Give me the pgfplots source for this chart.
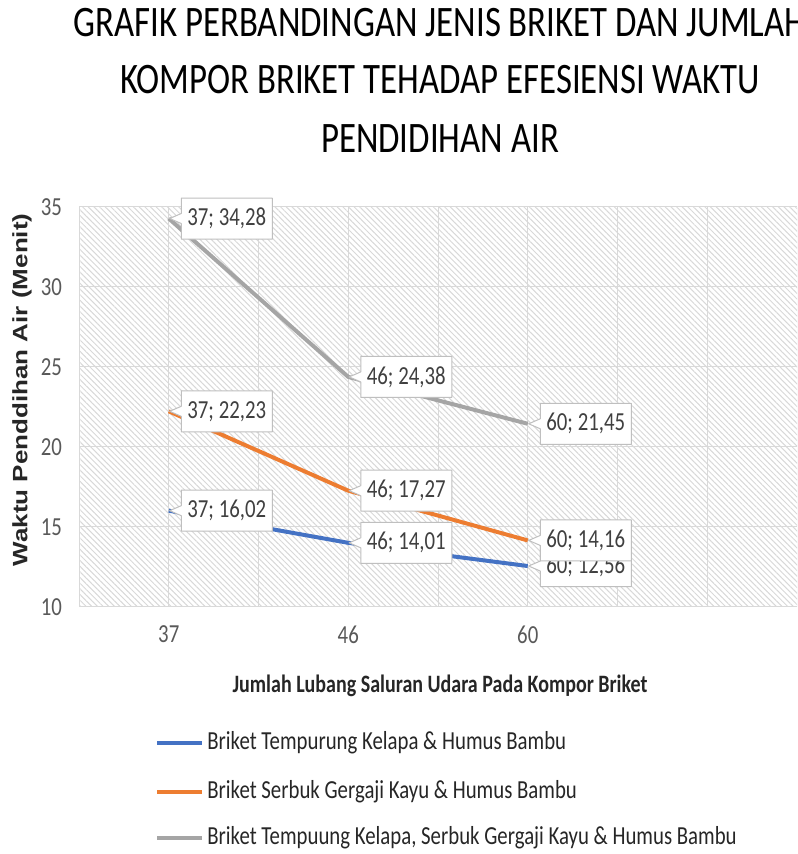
\documentclass[border=0pt]{standalone}
\usepackage{fontspec}
\setmainfont[FakeStretch=0.8]{Carlito}
\newfontfamily\arialfont{Liberation Sans}
\usepackage{graphicx}
\usepackage{pgfplots}
\usepackage{pgfplotstable}
\pgfplotsset{compat=1.18}
\usetikzlibrary{patterns.meta,shapes.callouts}

\definecolor{blueS}{HTML}{4472C4}
\definecolor{orangeS}{HTML}{ED7D31}
\definecolor{grayS}{HTML}{A5A5A5}
\definecolor{gridc}{HTML}{D9D9D9}
\definecolor{hatchc}{HTML}{D8D8D8}
\definecolor{tickc}{HTML}{595959}
\definecolor{labtxt}{HTML}{404040}
\definecolor{boxc}{HTML}{BFBFBF}
\definecolor{darktxt}{HTML}{262626}

% a bare ; would end the tikz path of the label node
\newcommand{\semi}{;}

% x = category index (37, 46, 60), lab = data label as printed
\pgfplotstableread[col sep=comma]{
x,y,lab
0,16.02,{37\semi{} 16,02}
1,14.01,{46\semi{} 14,01}
2,12.56,{60\semi{} 12,56}
}\tempurung
\pgfplotstableread[col sep=comma]{
x,y,lab
0,22.23,{37\semi{} 22,23}
1,17.27,{46\semi{} 17,27}
2,14.16,{60\semi{} 14,16}
}\serbuk
\pgfplotstableread[col sep=comma]{
x,y,lab
0,34.28,{37\semi{} 34,28}
1,24.38,{46\semi{} 24,38}
2,21.45,{60\semi{} 21,45}
}\campuran

\begin{document}
\begin{tikzpicture}
\useasboundingbox (0,0) rectangle (398.5pt,427pt);
\clip (0,0) rectangle (398.5pt,427pt);

% title
\begin{scope}[every node/.style={font=\fontsize{21.75}{26}\selectfont, anchor=base}]
\node at (220pt,408.5pt) {GRAFIK PERBANDINGAN JENIS BRIKET DAN JUMLAH};
\node at (220pt,380pt) {KOMPOR BRIKET TEHADAP EFESIENSI WAKTU};
\node at (220pt,350.5pt) {PENDIDIHAN AIR};
\end{scope}

\begin{axis}[
    at={(39.5pt,123.5pt)}, anchor=south west,
    width=359pt, height=200pt, scale only axis,
    xmin=-0.5, xmax=3.5, ymin=10, ymax=35,
    xtick={0,1,2}, xticklabels={37,46,60},
    minor xtick={-0.5,0.5,1.5,2.5,3,3.5},
    ytick={10,15,20,25,30,35},
    grid=both,
    major grid style={draw=gridc, line width=0.5pt},
    minor grid style={draw=gridc, line width=0.5pt},
    axis line style={draw=none},
    major tick length=0pt, minor tick length=0pt,
    tick label style={font=\fontsize{13}{15}\selectfont, text=tickc},
    /pgf/number format/assume math mode=true,
    xticklabel style={yshift=-6pt},
    yticklabel style={xshift=-5pt},
    axis background/.style={pattern={Lines[angle=-45,distance=2pt,line width=0.5pt]}, pattern color=hatchc},
    xlabel={Jumlah Lubang Saluran Udara Pada Kompor Briket},
    xlabel style={at={(axis description cs:0.5028,-0.215)}, anchor=base,
        font=\bfseries\fontsize{12.5}{15}\selectfont, text=darktxt},
    ylabel={\scalebox{1}[0.8]{\arialfont\bfseries Waktu Penddihan Air (Menit)}},
    ylabel style={at={(axis description cs:-0.0794,0.5425)}, anchor=center,
        font=\fontsize{13}{15}\selectfont, text=darktxt},
    every axis plot/.append style={line width=2pt, line join=round},
    point meta=explicit symbolic,
    nodes near coords,
    every node near coord/.append style={
        rectangle callout, draw=boxc, line width=0.5pt, fill=white,
        text=labtxt, font=\fontsize{13}{15}\selectfont,
        inner xsep=3pt, inner ysep=0pt,
        minimum height=20.5pt, minimum width=45.5pt,
        anchor=west, xshift=6pt,
        callout relative pointer={(-5.8pt,0pt)},
        callout pointer width=5pt},
]
\addplot[blueS, no marks] table[x=x, y=y, meta=lab] {\tempurung};
\addplot[orangeS, no marks] table[x=x, y=y, meta=lab] {\serbuk};
\addplot[grayS, no marks] table[x=x, y=y, meta=lab] {\campuran};
\end{axis}

% legend
\begin{scope}[every node/.style={anchor=west, font=\fontsize{13}{15}\selectfont, text=darktxt, inner sep=0pt}]
\draw[blueS, line width=2pt] (78.5pt,55.5pt) -- (101pt,55.5pt);
\node at (103.5pt,55.5pt) {Briket Tempurung Kelapa \& Humus Bambu};
\draw[orangeS, line width=2pt] (78.5pt,31pt) -- (101pt,31pt);
\node at (103.5pt,31pt) {Briket Serbuk Gergaji Kayu \& Humus Bambu};
\draw[grayS, line width=2pt] (78.5pt,8pt) -- (101pt,8pt);
\node at (103.5pt,8pt) {Briket Tempuung Kelapa, Serbuk Gergaji Kayu \& Humus Bambu};
\end{scope}
\end{tikzpicture}
\end{document}
